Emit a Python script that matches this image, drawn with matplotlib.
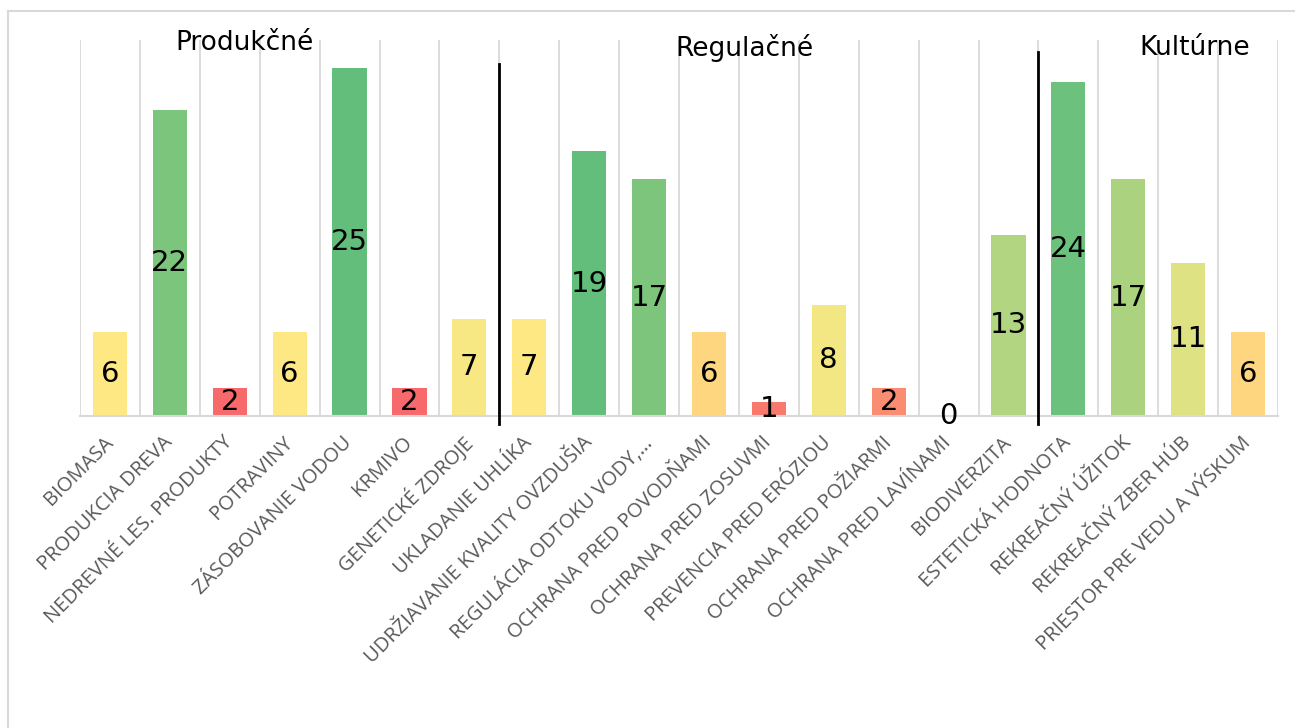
import numpy as np
import matplotlib
matplotlib.use("Agg")
import matplotlib.pyplot as plt
from matplotlib.lines import Line2D

# ---- data ----
categories = [
    "BIOMASA", "PRODUKCIA DREVA", "NEDREVNÉ LES. PRODUKTY", "POTRAVINY",
    "ZÁSOBOVANIE VODOU", "KRMIVO", "GENETICKÉ ZDROJE", "UKLADANIE UHLÍKA",
    "UDRŽIAVANIE KVALITY OVZDUŠIA", "REGULÁCIA ODTOKU VODY,…",
    "OCHRANA PRED POVODŇAMI", "OCHRANA PRED ZOSUVMI", "PREVENCIA PRED ERÓZIOU",
    "OCHRANA PRED POŽIARMI", "OCHRANA PRED LAVÍNAMI", "BIODIVERZITA",
    "ESTETICKÁ HODNOTA", "REKREAČNÝ ÚŽITOK", "REKREAČNÝ ZBER HÚB",
    "PRIESTOR PRE VEDU A VÝSKUM",
]
values = [6, 22, 2, 6, 25, 2, 7, 7, 19, 17, 6, 1, 8, 2, 0, 13, 24, 17, 11, 6]
section_names = ["Produkčné", "Regulačné", "Kultúrne"]

# ---- styles ----
bar_colors = [
    "#FEE883", "#7CC57C", "#F8696B", "#FEE883", "#63BE7B", "#F8696B", "#F7E883",
    "#FEE883", "#63BE7B", "#7DC57D", "#FED680", "#F8796E", "#F2E783", "#FA8C72",
    "#F8696B", "#B1D580", "#6CC17C", "#ABD27F", "#DEE283", "#FED680",
]

W, H = 1295, 728
fig = plt.figure(figsize=(W / 100, H / 100), dpi=100)
fig.patch.set_facecolor("white")

ax_left, ax_right, ax_top, ax_bottom = 80, 1278, 40, 416
ax = fig.add_axes([ax_left / W, 1 - ax_bottom / H,
                   (ax_right - ax_left) / W, (ax_bottom - ax_top) / H])

x = np.arange(len(categories))
ax.bar(x, values, width=0.57, color=bar_colors, zorder=2)
ax.set_xlim(-0.5, len(categories) - 0.5)
ax.set_ylim(0, 27)

# gridlines at category boundaries
ax.set_xticks(np.arange(-0.5, len(categories), 1), minor=True)
ax.grid(which="minor", axis="x", color="#D9D9D9", lw=1.3, zorder=0)
ax.grid(which="major", visible=False)
ax.set_yticks([])
for s in ["top", "left", "right"]:
    ax.spines[s].set_visible(False)
ax.spines["bottom"].set_color("#D9D9D9")
ax.spines["bottom"].set_linewidth(1.5)

ax.set_xticks(x)
ax.set_xticklabels(categories, rotation=45, ha="right", va="center",
                   rotation_mode="anchor", fontsize=14.5, color="#595959",
                   family=["Open Sans", "DejaVu Sans"])
ax.tick_params(axis="x", which="both", length=0, pad=17)

# data labels centered in bars
for xi, v in zip(x, values):
    ax.text(xi, v / 2, str(v), ha="center", va="center", fontsize=21,
            color="black", zorder=3)

# section separators
ax.axvline(6.5, ymin=-0.02, ymax=(ax_bottom - 64) / (ax_bottom - ax_top),
           color="black", lw=2, clip_on=False, zorder=4)
ax.axvline(15.5, ymin=-0.02, ymax=(ax_bottom - 52) / (ax_bottom - ax_top),
           color="black", lw=2, clip_on=False, zorder=4)

# section titles
title_pos = [(244, 43), (744, 48), (1195, 48)]
for name, (px, py) in zip(section_names, title_pos):
    fig.text(px / W, 1 - py / H, name, ha="center", va="center",
             fontsize=19, color="black")

# outer chart frame (partially cropped)
fig.add_artist(Line2D([8 / W, 8 / W], [0, 1 - 11 / H], color="#D9D9D9", lw=1.5))
fig.add_artist(Line2D([8 / W, 1], [1 - 11 / H, 1 - 11 / H], color="#D9D9D9", lw=1.5))

fig.savefig("out.png", dpi=100)
